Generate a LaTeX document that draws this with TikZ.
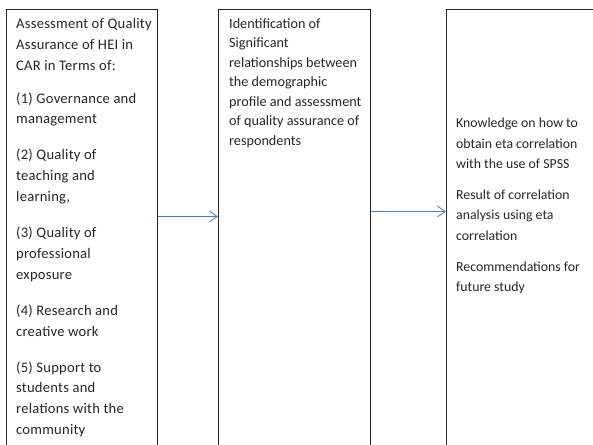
\documentclass[tikz,border=0pt]{standalone}
\usepackage{fontspec}
\setmainfont{Carlito}
\newfontfamily\loosefont[LetterSpace=1.6]{Carlito}
\usetikzlibrary{arrows.meta}
\definecolor{flowblue}{HTML}{4A7EBB}
\definecolor{ink}{HTML}{262626}
\tikzset{
  panel/.style={draw=ink, line width=0.9pt, anchor=north west, inner sep=0pt,
                minimum height=480pt},
  blurb/.style={anchor=north west, inner sep=0pt, align=left, text=ink},
  flow/.style={draw=flowblue, line width=0.8pt,
               -{Straight Barb[length=8pt,width=11pt,line width=0.8pt]}}
}
\begin{document}
\begin{tikzpicture}[x=1pt,y=-1pt]
  \useasboundingbox (0,0) rectangle (593,444);
  \clip (0,0) rectangle (593,444);

  % three tall panels, open at the bottom
  \node[panel, minimum width=151pt] (b1) at (6,9) {};
  \node[panel, minimum width=152pt] (b2) at (218,9) {};
  \node[panel, minimum width=220pt] (b3) at (446,9) {};

  % panel texts
  \node[blurb, font=\loosefont\fontsize{14.6}{20.9}\selectfont] (t1) at (16,18)
    {Assessment of Quality\\ Assurance of HEI in\\ CAR in Terms of:\\[12pt]
     (1) Governance and\\ management\\[14.5pt]
     (2) Quality of\\ teaching and\\ learning,\\[15.5pt]
     (3) Quality of\\ professional\\ exposure\\[15pt]
     (4) Research and\\ creative work\\[15pt]
     (5) Support to\\ students and\\ relations with the\\ community};

  \node[blurb, font=\fontsize{14.2}{19.5}\selectfont] (t2) at (229,18)
    {Identification of\\ Significant\\ relationships between\\ the demographic\\
     profile and assessment\\ of quality assurance of\\ respondents};

  \node[blurb, font=\fontsize{13.8}{20.3}\selectfont] (t3) at (456,118)
    {Knowledge on how to\\ obtain eta correlation\\ with the use of SPSS\\[11pt]
     Result of correlation\\ analysis using eta\\ correlation\\[11pt]
     Recommendations for\\ future study};

  % connectors between panels
  \coordinate (r1) at (0,216.5);
  \coordinate (r2) at (0,211.5);
  \draw[flow] (b1.east |- r1) -- (b2.west |- r1);
  \draw[flow] (b2.east |- r2) -- (b3.west |- r2);
\end{tikzpicture}
\end{document}
